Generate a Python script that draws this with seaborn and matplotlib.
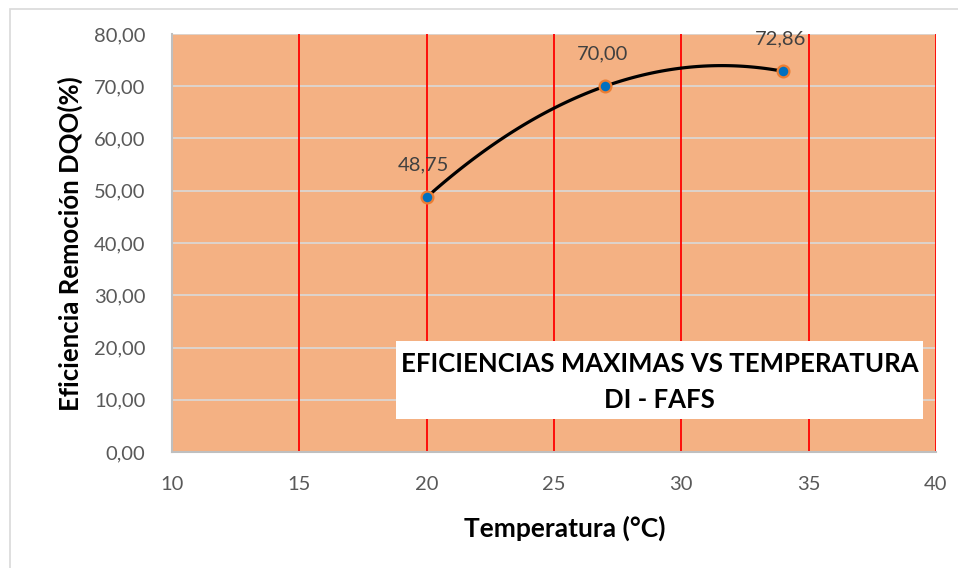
import numpy as np
import pandas as pd
import matplotlib
matplotlib.use("Agg")
import matplotlib.pyplot as plt
import seaborn as sns
from matplotlib.patches import Rectangle

# ---- data ----
temperatura = [20, 27, 34]
eficiencia = [48.75, 70.00, 72.86]
etiquetas = ["48,75", "70,00", "72,86"]
x_ticks = [10, 15, 20, 25, 30, 35, 40]
y_ticks = [0, 10, 20, 30, 40, 50, 60, 70, 80]
y_tick_labels = ["0,00", "10,00", "20,00", "30,00", "40,00", "50,00", "60,00", "70,00", "80,00"]
titulo = ["EFICIENCIAS MAXIMAS VS TEMPERATURA", "DI - FAFS"]
x_label = "Temperatura (°C)"
y_label = "Eficiencia Remoción DQO(%)"

df = pd.DataFrame({"T": temperatura, "E": eficiencia})

sns.set_theme(style="white")
plt.rcParams["font.family"] = ["Lato", "DejaVu Sans"]

W, H = 958, 568
fig = plt.figure(figsize=(W / 100, H / 100), dpi=100)
fig.patch.set_facecolor("white")
ax = fig.add_axes([172 / W, 1 - 452 / H, (936 - 172) / W, (452 - 34) / H])
ax.set_facecolor("#F4B183")

# outer chart border
fig.patches.append(Rectangle((10 / W, -0.01), 1.0, 1 - 9 / H + 0.01, transform=fig.transFigure,
                             fill=False, edgecolor="#D9D9D9", linewidth=1.2, zorder=0))

ax.set_xlim(10, 40)
ax.set_ylim(0, 80)
ax.set_xticks(x_ticks)
ax.set_xticklabels([str(t) for t in x_ticks])
ax.set_yticks(y_ticks)
ax.set_yticklabels(y_tick_labels)
ax.tick_params(axis="both", length=0, labelsize=14.5, labelcolor="#595959")
ax.tick_params(axis="x", pad=17)
ax.tick_params(axis="y", pad=19)

# gridlines
for yv in y_ticks:
    ax.axhline(yv, color="#D9D9D9", lw=1.2, zorder=1)
for xv in x_ticks[1:]:
    ax.axvline(xv, color="#FF0000", lw=1.3, zorder=1)

for s in ["top", "right"]:
    ax.spines[s].set_visible(False)
for s in ["left", "bottom"]:
    ax.spines[s].set_color("#BFBFBF")
    ax.spines[s].set_linewidth(1.5)

# polynomial (order 2) trendline through the points
sns.regplot(data=df, x="T", y="E", ax=ax, order=2, ci=None, scatter=False, truncate=True,
            line_kws={"color": "black", "lw": 2.3, "zorder": 3})

sns.scatterplot(data=df, x="T", y="E", ax=ax, s=72, color="#0070C0",
                edgecolor="#ED7D31", linewidth=1.6, zorder=4, legend=False)

for xv, yv, lab in zip(temperatura, eficiencia, etiquetas):
    ax.annotate(lab, (xv, yv), xytext=(-2, 23), textcoords="offset points",
                ha="center", va="center", fontsize=14.5, color="#404040", zorder=5)

ax.set_xlim(10, 40)
ax.set_ylim(0, 80)
ax.set_xlabel(x_label, fontsize=19, fontweight="bold", color="black", va="center")
ax.set_ylabel(y_label, fontsize=18.5, fontweight="bold", color="black", va="center")
ax.xaxis.set_label_coords((565 - 172) / 764, (452 - 528) / 418)
ax.yaxis.set_label_coords((70 - 172) / 764, (452 - 244) / 418)

# title box
fig.patches.append(Rectangle((396 / W, 1 - 419 / H), 527 / W, 78 / H, transform=fig.transFigure,
                             facecolor="white", edgecolor="none", zorder=6))
fig.text(659.5 / W, 1 - 364 / H, titulo[0], ha="center", va="center", fontsize=18.5,
         fontweight="bold", color="black", zorder=7)
fig.text(659.5 / W, 1 - 400 / H, titulo[1], ha="center", va="center", fontsize=18.5,
         fontweight="bold", color="black", zorder=7)

fig.savefig("out.png", dpi=100)
